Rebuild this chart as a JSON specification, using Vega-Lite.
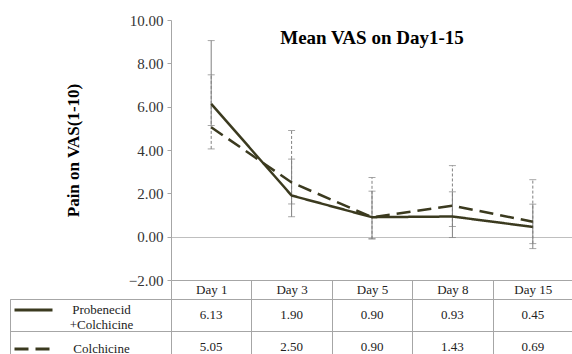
{
  "$schema": "https://vega.github.io/schema/vega-lite/v6.json",
  "background": "white",
  "padding": {"left": 9, "top": 13, "right": 0, "bottom": 0},
  "columns": 2,
  "spacing": {"row": 19, "column": 0},
  "bounds": "flush",
  "resolve": {"scale": {"x": "independent", "y": "independent", "strokeDash": "independent"}, "legend": {"strokeDash": "independent"}},
  "config": {"view": {"stroke": null}, "font": "Liberation Serif"},
  "datasets": {
    "vas": [
      {"day": "Day 1", "series": "Probenecid+Colchicine", "mean": 6.13, "low": 5.13, "high": 9.05},
      {"day": "Day 3", "series": "Probenecid+Colchicine", "mean": 1.90, "low": 0.92, "high": 3.58},
      {"day": "Day 5", "series": "Probenecid+Colchicine", "mean": 0.90, "low": -0.10, "high": 2.10},
      {"day": "Day 8", "series": "Probenecid+Colchicine", "mean": 0.93, "low": -0.04, "high": 2.07},
      {"day": "Day 15", "series": "Probenecid+Colchicine", "mean": 0.45, "low": -0.55, "high": 1.50},
      {"day": "Day 1", "series": "Colchicine", "mean": 5.05, "low": 4.05, "high": 7.47},
      {"day": "Day 3", "series": "Colchicine", "mean": 2.50, "low": 1.51, "high": 4.90},
      {"day": "Day 5", "series": "Colchicine", "mean": 0.90, "low": -0.10, "high": 2.73},
      {"day": "Day 8", "series": "Colchicine", "mean": 1.43, "low": 0.47, "high": 3.28},
      {"day": "Day 15", "series": "Colchicine", "mean": 0.69, "low": -0.32, "high": 2.63}
    ]
  },
  "concat": [
    {
      "width": 161, "height": 260,
      "data": {"values": [{"a": 1}]},
      "mark": {"type": "text"},
      "encoding": {"text": {"value": ""}}
    },
    {
      "width": 402, "height": 260,
      "data": {"name": "vas"},
      "title": {"text": "Mean VAS on Day1-15", "font": "Liberation Serif", "fontSize": 19, "fontWeight": "bold", "color": "#000", "anchor": "middle", "offset": -35},
      "encoding": {
        "x": {
          "field": "day", "type": "nominal",
          "sort": ["Day 1", "Day 3", "Day 5", "Day 8", "Day 15"],
          "scale": {"type": "band", "paddingInner": 0, "paddingOuter": 0},
          "axis": {"title": null, "labelFont": "Liberation Serif", "labelFontSize": 13, "labelColor": "#222", "labelAngle": 0, "tickBand": "extent", "tickSize": 19, "tickColor": "#a6a6a6", "domainColor": "#a6a6a6", "labelPadding": -16, "labelBaseline": "top"}
        }
      },
      "layer": [
        {
          "transform": [{"filter": "datum.series == 'Colchicine'"}],
          "mark": {"type": "rule", "color": "#808080", "strokeWidth": 1, "strokeDash": [3, 2]},
          "encoding": {
            "y": {"field": "low", "type": "quantitative", "title": "Pain on VAS(1-10)",
              "scale": {"domain": [-2, 10], "nice": false, "zero": false},
              "axis": {"values": [-2, 0, 2, 4, 6, 8, 10], "format": ".2f", "labelFont": "Liberation Serif", "labelFontSize": 15, "labelColor": "#333", "tickSize": 4, "tickColor": "#a6a6a6", "domainColor": "#a6a6a6", "labelPadding": 4, "titleFont": "Liberation Serif", "titleFontSize": 17, "titleFontWeight": "bold", "titleColor": "#000", "titlePadding": 46, "grid": true, "gridColor": {"condition": {"test": "datum.value === 0", "value": "#bfbfbf"}, "value": "transparent"}}
            },
            "y2": {"field": "high"}
          }
        },
        {
          "transform": [{"filter": "datum.series != 'Colchicine'"}],
          "mark": {"type": "rule", "color": "#808080", "strokeWidth": 1},
          "encoding": {
            "y": {"field": "low", "type": "quantitative", "title": "Pain on VAS(1-10)"},
            "y2": {"field": "high"}
          }
        },
        {
          "mark": {"type": "tick", "color": "#808080", "size": 7, "thickness": 1},
          "encoding": {"y": {"field": "low", "type": "quantitative", "title": "Pain on VAS(1-10)"}}
        },
        {
          "mark": {"type": "tick", "color": "#808080", "size": 7, "thickness": 1},
          "encoding": {"y": {"field": "high", "type": "quantitative", "title": "Pain on VAS(1-10)"}}
        },
        {
          "mark": {"type": "line", "color": "#3b3a1f", "strokeWidth": 2.5},
          "encoding": {
            "y": {"field": "mean", "type": "quantitative", "title": "Pain on VAS(1-10)"},
            "strokeDash": {"field": "series", "type": "nominal", "scale": {"domain": ["Probenecid+Colchicine", "Colchicine"], "range": [[1, 0], [14, 7]]}, "legend": null}
          }
        }
      ]
    },
    {
      "width": 161, "height": 64,
      "data": {"name": "vas"},
      "view": {"stroke": "#a6a6a6"},
      "mark": {"type": "line", "color": "#3b3a1f", "strokeWidth": 3},
      "encoding": {
        "y": {"field": "series", "type": "nominal", "sort": ["Probenecid+Colchicine", "Colchicine"],
          "scale": {"type": "band", "paddingInner": 0, "paddingOuter": 0},
          "axis": {"title": null, "labels": false, "ticks": false, "domain": false, "grid": true, "tickBand": "extent", "gridColor": "#a6a6a6"}},
        "strokeDash": {"field": "series", "type": "nominal",
          "scale": {"domain": ["Probenecid+Colchicine", "Colchicine"], "range": [[1, 0], [14, 7]]},
          "legend": {"orient": "top-left", "offset": 0, "title": null, "symbolType": "M-2,0H2", "symbolSize": 361, "symbolStrokeWidth": 3, "symbolStrokeColor": "#3b3a1f", "symbolFillColor": "transparent", "symbolOffset": 12.5, "labelFont": "Liberation Serif", "labelFontSize": 13, "labelColor": "#222", "labelOffset": 57, "labelAlign": "center", "rowPadding": 6, "padding": 0, "labelLimit": 200,
            "labelExpr": "datum.label == 'Probenecid+Colchicine' ? ['Probenecid', '+Colchicine'] : datum.label"}}
      }
    },
    {
      "width": 402, "height": 64,
      "data": {"name": "vas"},
      "view": {"stroke": "#a6a6a6"},
      "mark": {"type": "text", "font": "Liberation Serif", "fontSize": 13, "color": "#222"},
      "encoding": {
        "x": {"field": "day", "type": "nominal", "sort": ["Day 1", "Day 3", "Day 5", "Day 8", "Day 15"],
          "scale": {"type": "band", "paddingInner": 0, "paddingOuter": 0},
          "axis": {"title": null, "labels": false, "ticks": false, "domain": false, "grid": true, "tickBand": "extent", "gridColor": "#a6a6a6"}},
        "y": {"field": "series", "type": "nominal", "sort": ["Probenecid+Colchicine", "Colchicine"],
          "scale": {"type": "band", "paddingInner": 0, "paddingOuter": 0},
          "axis": {"title": null, "labels": false, "ticks": false, "domain": false, "grid": true, "tickBand": "extent", "gridColor": "#a6a6a6"}},
        "text": {"field": "mean", "type": "quantitative", "format": ".2f"}
      }
    }
  ]
}
